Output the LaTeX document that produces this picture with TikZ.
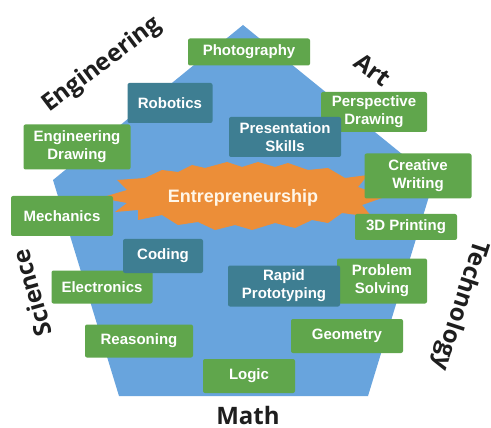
\documentclass[tikz,border=0pt]{standalone}
\usepackage{fontspec}
\setmainfont{Liberation Sans}
\newfontfamily\labelfont{Open Sans}
\definecolor{penta}{RGB}{104,164,221}
\definecolor{boxgreen}{RGB}{96,166,76}
\definecolor{boxteal}{RGB}{62,126,146}
\definecolor{burst}{RGB}{236,142,56}
\definecolor{labelgray}{RGB}{30,30,30}
\begin{document}
\begin{tikzpicture}[x=1pt,y=-1pt,
  box/.style={rounded corners=2pt, inner sep=0pt, text=white, align=center,
    font=\bfseries\fontsize{15}{18}\selectfont},
  gbox/.style={box, fill=boxgreen},
  tbox/.style={box, fill=boxteal},
  side/.style={font=\labelfont\bfseries\fontsize{24}{28}\selectfont, text=labelgray, inner sep=0pt}]
\useasboundingbox (0,0) rectangle (491,428);
\fill[white] (0,0) rectangle (491,428);
% pentagon
\fill[penta] (243,25) -- (434,180) -- (368,396) -- (119,396) -- (53,180) -- cycle;
% starburst
\fill[burst] (100,198) -- (127,190) -- (117,180) -- (145,178) -- (162,170) -- (178,172)
  -- (192,165) -- (205,168) -- (227,162) -- (242,167) -- (258,162) -- (275,167)
  -- (288,163) -- (308,170) -- (328,168) -- (345,178) -- (368,175) -- (358,187)
  -- (385,197) -- (362,205) -- (372,217) -- (342,213) -- (328,223) -- (312,220)
  -- (295,228) -- (275,223) -- (252,230) -- (235,225) -- (215,230) -- (198,222)
  -- (178,225) -- (162,215) -- (138,220) -- (138,210) -- (115,212) -- (127,203) -- cycle;
\node[inner sep=0pt, text={rgb,255:red,255;green,246;blue,232}, font=\bfseries\fontsize{18}{21}\selectfont] (entre) at (243,198) {Entrepreneurship};
% green boxes
\node[gbox, minimum width=122pt, minimum height=27pt] (photo) at (249,52) {Photography};
\node[gbox, minimum width=107pt, minimum height=45pt] (engdraw) at (77,147) {Engineering\\Drawing};
\node[gbox, minimum width=106pt, minimum height=40pt] (persp) at (374,112) {Perspective\\Drawing};
\node[gbox, minimum width=107pt, minimum height=45pt] (creative) at (418,176) {Creative\\Writing};
\node[gbox, minimum width=102pt, minimum height=40pt] (mech) at (62,216) {Mechanics};
\node[gbox, minimum width=102pt, minimum height=26pt] (print) at (406,227) {3D Printing};
\node[gbox, minimum width=101pt, minimum height=33pt] (electro) at (102,287) {Electronics};
\node[gbox, minimum width=90pt, minimum height=45pt] (problem) at (382,281) {Problem\\Solving};
\node[gbox, minimum width=108pt, minimum height=33pt] (reason) at (139,341) {Reasoning};
\node[gbox, minimum width=112pt, minimum height=34pt] (geom) at (347,336) {Geometry};
\node[gbox, minimum width=92pt, minimum height=34pt] (logic) at (249,376) {Logic};
% teal boxes
\node[tbox, minimum width=85pt, minimum height=40pt] (robot) at (170,103) {Robotics};
\node[tbox, minimum width=112pt, minimum height=40pt] (present) at (285,137) {Presentation\\Skills};
\node[tbox, minimum width=80pt, minimum height=34pt] (coding) at (163,256) {Coding};
\node[tbox, minimum width=112pt, minimum height=41pt] (rapid) at (284,286) {Rapid\\Prototyping};
% side labels
\node[side, rotate=37] (eng) at (102,65) {Engineering};
\node[side, rotate=-37] (art) at (373,70) {Art};
\node[side, rotate=106] (sci) at (32,293) {Science};
\node[side, rotate=-108] (tech) at (460,305) {Technology};
\node[side] (math) at (248,415) {Math};
\end{tikzpicture}
\end{document}
